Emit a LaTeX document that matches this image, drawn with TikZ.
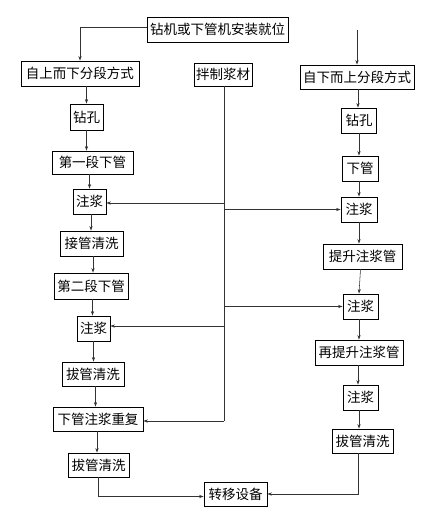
\documentclass[tikz,border=0pt]{standalone}
\usepackage{fontspec}
\newfontfamily\cjk{Noto Sans CJK SC}
\usetikzlibrary{arrows.meta}
\begin{document}
\begin{tikzpicture}[x=1pt,y=-1pt,
  box/.style={draw=black,line width=0.9pt,inner sep=0pt,font=\cjk\fontsize{13.5}{15}\selectfont,align=center},
  conn/.style={draw=black!80,line width=0.55pt,-{Stealth[length=4.5pt,width=3.2pt]}},
  plain/.style={draw=black!80,line width=0.55pt}]
\useasboundingbox (0,0) rectangle (437,507);
% nodes: center, width, height
\node[box,minimum width=141pt,minimum height=25pt] (top) at (217.5,29.5) {钻机或下管机安装就位};
\node[box,minimum width=118pt,minimum height=25pt] (L1) at (80,73.5) {自上而下分段方式};
\node[box,minimum width=58pt,minimum height=23pt] (mix) at (223,74.5) {拌制浆材};
\node[box,minimum width=114pt,minimum height=24pt] (R1) at (357,77) {自下而上分段方式};
\node[box,minimum width=33pt,minimum height=26pt] (zkL) at (86.5,117) {钻孔};
\node[box,minimum width=35pt,minimum height=25pt] (zkR) at (359,120.5) {钻孔};
\node[box,minimum width=81pt,minimum height=23pt] (d1) at (92.5,162.5) {第一段下管};
\node[box,minimum width=36pt,minimum height=25pt] (xg) at (360,168.5) {下管};
\node[box,minimum width=33pt,minimum height=25pt] (zjL1) at (89.5,201.5) {注浆};
\node[box,minimum width=36pt,minimum height=25pt] (zjR1) at (359,209.5) {注浆};
\node[box,minimum width=63pt,minimum height=25pt] (jg) at (91.5,243.5) {接管清洗};
\node[box,minimum width=79pt,minimum height=25pt] (ts) at (362.5,256.5) {提升注浆管};
\node[box,minimum width=74pt,minimum height=26pt] (d2) at (91,286) {第二段下管};
\node[box,minimum width=35pt,minimum height=25pt] (zjR2) at (360.5,306.5) {注浆};
\node[box,minimum width=33pt,minimum height=25pt] (zjL2) at (93.5,328.5) {注浆};
\node[box,minimum width=88pt,minimum height=25pt] (zts) at (359,352.5) {再提升注浆管};
\node[box,minimum width=62pt,minimum height=24pt] (bgL1) at (93,374) {拔管清洗};
\node[box,minimum width=35pt,minimum height=25pt] (zjR3) at (360.5,397.5) {注浆};
\node[box,minimum width=90pt,minimum height=24pt] (cf) at (98,419) {下管注浆重复};
\node[box,minimum width=61pt,minimum height=24pt] (bgR) at (362.5,441) {拔管清洗};
\node[box,minimum width=61pt,minimum height=24pt] (bgL2) at (98.5,465) {拔管清洗};
\node[box,minimum width=63pt,minimum height=24pt] (zy) at (235.5,494) {转移设备};
\coordinate (rstart) at (357,30);
\coordinate (trunkend) at (224,421);
% top branch
\draw[conn] ([yshift=2.5pt]top.west) -| (L1.north);
\draw[conn] (rstart) -- (rstart |- R1.north);
% left column
\draw[conn] (zkL.north |- L1.south) -- (zkL.north);
\draw[conn] (zkL.south) -- (zkL.south |- d1.north);
\draw[conn] (zjL1.north |- d1.south) -- (zjL1.north);
\draw[conn] ([xshift=1.5pt]zjL1.south) -- ([xshift=1.5pt]zjL1.south |- jg.north);
\draw[conn] ([xshift=1.5pt]jg.south) -- ([xshift=1.5pt]jg.south |- d2.north);
\draw[conn] ([xshift=1.5pt]d2.south) -- ([xshift=1.5pt]d2.south |- zjL2.north);
\draw[conn] (zjL2.south) -- (zjL2.south |- bgL1.north);
\draw[conn] ([xshift=2.5pt]bgL1.south) -- ([xshift=2.5pt]bgL1.south |- cf.north);
\draw[conn] ([xshift=-1pt]cf.south) -- ([xshift=-1pt]cf.south |- bgL2.north);
\draw[conn] (bgL2.south) |- ([yshift=-2.5pt]zy.west);
% right column
\draw[conn] ([xshift=1pt]R1.south) -- ([xshift=1pt]R1.south |- zkR.north);
\draw[conn] (zkR.south) -- (zkR.south |- xg.north);
\draw[conn] (zjR1.north |- xg.south) -- (zjR1.north);
\draw[conn] (zjR1.south) -- (zjR1.south |- ts.north);
\draw[conn] (zjR2.north |- ts.south) -- ([xshift=-1.5pt]zjR2.north);
\draw[conn] ([xshift=-1.5pt]zjR2.south) -- ([xshift=-1.5pt]zjR2.south |- zts.north);
\draw[conn] ([xshift=-1pt]zts.south) -- ([xshift=-1pt]zts.south |- zjR3.north);
\draw[conn] ([xshift=-1.5pt]zjR3.south) -- ([xshift=-1.5pt]zjR3.south |- bgR.north);
\draw[conn] ([xshift=-4pt]bgR.south) |- (zy.east);
% slurry trunk
\draw[plain] (mix.south -| trunkend) -- (trunkend);
\draw[conn] (trunkend) -- (trunkend -| cf.east);
\draw[conn] ([yshift=-1.5pt]zjL1.east -| trunkend) -- ([yshift=-1.5pt]zjL1.east);
\draw[conn] (zjR1.west -| trunkend) -- (zjR1.west);
\draw[conn] (zjR2.west -| trunkend) -- (zjR2.west);
\draw[conn] ([yshift=2.5pt]zjL2.east -| trunkend) -- ([yshift=2.5pt]zjL2.east);
\end{tikzpicture}
\end{document}
